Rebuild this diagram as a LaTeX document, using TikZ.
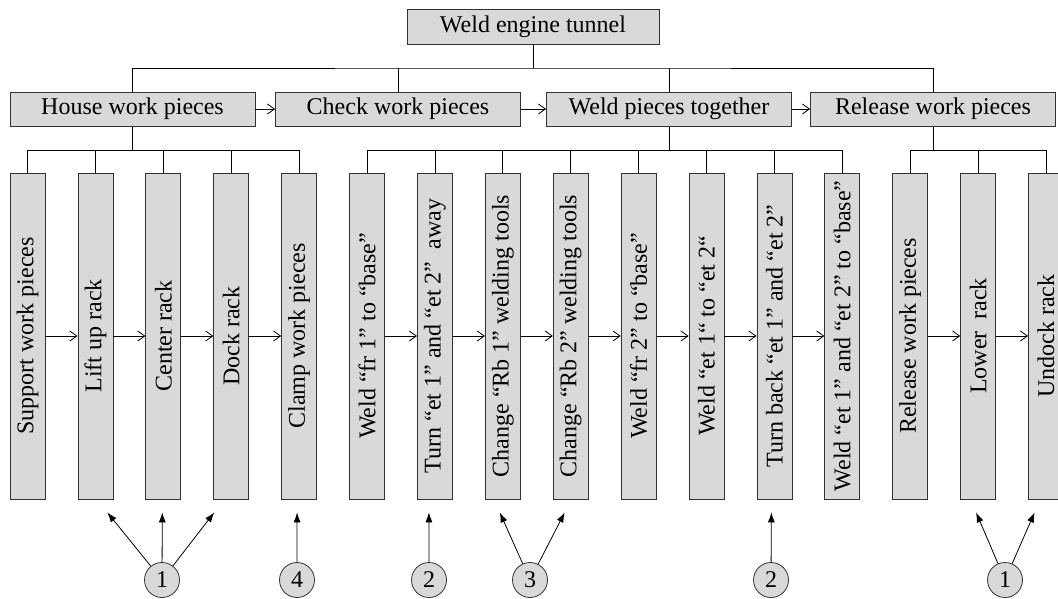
\documentclass[tikz,border=0pt]{standalone}
\usepackage{fontspec}
\setmainfont{Liberation Serif}
\usepackage{graphicx}
\usepackage{tikz}
\usetikzlibrary{arrows.meta}
\usetikzlibrary{calc}
\newcommand{\vlabel}[1]{\rotatebox{90}{#1}}

\begin{document}
\begin{tikzpicture}[
                      x=1pt, y=-1pt, line width=0.8pt,
                      every node/.style={font=\fontsize{24}{28}\selectfont, draw=black!80, fill=black!15, inner sep=0pt},
                      hbox/.style={minimum width=245pt, minimum height=34pt},
                      vbox/.style={minimum width=35pt, minimum height=326pt},
                      num/.style={circle, minimum size=35pt},
                      >={Straight Barb[length=7pt,width=10pt]},
                      tip/.style={-{Latex[length=10pt,width=7pt]}}
                  ]
                  \clip (0,0) rectangle (1058,599);
                  % top and second level
                  \node[minimum width=252pt, minimum height=35pt] at (533,26.5) (top) {Weld engine tunnel};
                  \node[hbox] at (132.5,109) (house) {House work pieces};
                  \node[hbox] at (398,109) (check) {Check work pieces};
                  \node[hbox] at (669,109) (weld) {Weld pieces together};
                  \node[hbox] at (933,109) (rel) {Release work pieces};
                  \coordinate (bus) at (533,68);
                  \draw (top) -- (bus);
                  \draw (house.north) |- (bus) -| (rel.north);
                  \draw (check.north) -- (check.north |- bus);
                  \draw (weld.north) -- (weld.north |- bus);
                  \draw[->] (house) -- (check);
                  \draw[->] (check) -- (weld);
                  \draw[->] (weld) -- (rel);
                  % steps
                  \node[vbox] at (27.5,336) (b1) {\vlabel{Support work pieces}};
                  \node[vbox] at (95.4,336) (b2) {\vlabel{Lift up rack}};
                  \node[vbox] at (163.3,336) (b3) {\vlabel{Center rack}};
                  \node[vbox] at (231.2,336) (b4) {\vlabel{Dock rack}};
                  \node[vbox] at (299.1,336) (b5) {\vlabel{Clamp work pieces}};
                  \node[vbox] at (367,336) (b6) {\vlabel{Weld “fr 1” to “base”}};
                  \node[vbox] at (434.9,336) (b7) {\vlabel{Turn “et 1” and “et 2”~ away}};
                  \node[vbox] at (502.8,336) (b8) {\vlabel{Change “Rb 1” welding tools}};
                  \node[vbox] at (570.7,336) (b9) {\vlabel{Change “Rb 2” welding tools}};
                  \node[vbox] at (638.6,336) (b10) {\vlabel{Weld “fr 2” to “base”}};
                  \node[vbox] at (706.5,336) (b11) {\vlabel{Weld “et 1“ to “et 2“}};
                  \node[vbox] at (774.4,336) (b12) {\vlabel{Turn back “et 1” and “et 2”}};
                  \node[vbox] at (842.3,336) (b13) {\vlabel{Weld “et 1” and “et 2” to “base”}};
                  \node[vbox] at (910.2,336) (b14) {\vlabel{Release work pieces}};
                  \node[vbox] at (978.1,336) (b15) {\vlabel{Lower~ rack}};
                  \node[vbox] at (1046,336) (b16) {\vlabel{Undock rack}};
                  \coordinate (hb) at (0,150);
                  \draw (house) -- (house |- hb);
                  \draw (weld) -- (weld |- hb);
                  \draw (rel) -- (rel |- hb);
                  \draw (b1.north) |- (b5.north |- hb) -- (b5.north);
                  \draw (b6.north) |- (b13.north |- hb) -- (b13.north);
                  \draw (b14.north) |- (b16.north |- hb) -- (b16.north);
                  \foreach \i in {2,3,4,7,8,9,10,11,12,15}
                      \draw (b\i.north) -- (b\i.north |- hb);
                  \draw[->] (b1) -- (b2);
                  \draw[->] (b2) -- (b3);
                  \draw[->] (b3) -- (b4);
                  \draw[->] (b4) -- (b5);
                  \draw[->] (b6) -- (b7);
                  \draw[->] (b7) -- (b8);
                  \draw[->] (b8) -- (b9);
                  \draw[->] (b9) -- (b10);
                  \draw[->] (b10) -- (b11);
                  \draw[->] (b11) -- (b12);
                  \draw[->] (b12) -- (b13);
                  \draw[->] (b14) -- (b15);
                  \draw[->] (b15) -- (b16);
                  % notes
                  \node[num] at (162,580) (n1) {1};
                  \node[num] at (297,580) (n4) {4};
                  \node[num] at (429,580) (n2) {2};
                  \node[num] at (530,580) (n3) {3};
                  \node[num] at (771,580) (n2b) {2};
                  \node[num] at (1005,580) (n1b) {1};
                  \draw[tip] (n1) -- ([shift={(-6,13)}]b2.south east);
                  \draw[tip] (n1) -- ([shift={(-1,13)}]b3.south);
                  \draw[tip] (n1) -- ([shift={(1,13)}]b4.south west);
                  \draw[tip] (n4) -- ([shift={(-2,13)}]b5.south);
                  \draw[tip] (n2) -- ([shift={(-6,13)}]b7.south);
                  \draw[tip] (n3) -- ([shift={(-3,13)}]b8.south);
                  \draw[tip] (n3) -- ([shift={(-6,13)}]b9.south);
                  \draw[tip] (n2b) -- ([shift={(-3,13)}]b12.south);
                  \draw[tip] (n1b) -- ([shift={(-2,13)}]b15.south);
                  \draw[tip] (n1b) -- ([shift={(6.5,13)}]b16.south west);
              \end{tikzpicture}
\end{document}
